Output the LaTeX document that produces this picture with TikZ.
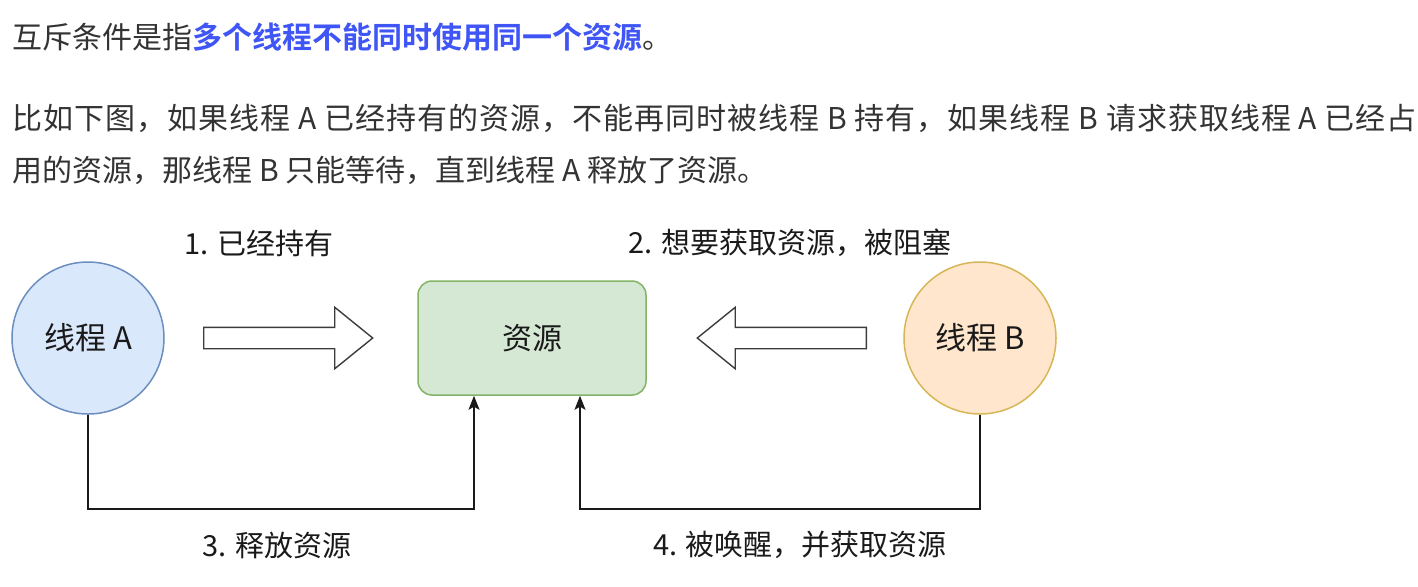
\documentclass[tikz,border=0pt]{standalone}
\usepackage{fontspec}
\setmainfont{Noto Sans CJK SC}[BoldFont={Noto Sans CJK SC Bold}]
\newfontfamily\spreadfont{Noto Sans CJK SC}[LetterSpace=3.4]
\usetikzlibrary{shapes.arrows,arrows.meta}
\definecolor{bodytext}{HTML}{333333}
\definecolor{linkblue}{HTML}{3F55F5}
\definecolor{blueFill}{HTML}{DAE8FC}
\definecolor{blueLine}{HTML}{6C8EBF}
\definecolor{greenFill}{HTML}{D5E8D4}
\definecolor{greenLine}{HTML}{82B366}
\definecolor{orangeFill}{HTML}{FFE6CC}
\definecolor{orangeLine}{HTML}{D6B656}
\definecolor{inkline}{HTML}{1A1A1A}

\begin{document}
\begin{tikzpicture}[x=0.5pt,y=-0.5pt,
	para/.style={anchor=west,inner sep=0pt,text=bodytext,font=\fontsize{15pt}{18pt}\selectfont},
	tag/.style={inner sep=0pt,text=inkline,font=\fontsize{14.5pt}{17pt}\selectfont},
	thread/.style={circle,minimum size=76pt,inner sep=0pt,line width=0.75pt,text=inkline,font=\fontsize{15.5pt}{18pt}\selectfont},
	res/.style={rectangle,rounded corners=7pt,minimum width=114pt,minimum height=57pt,fill=greenFill,draw=greenLine,line width=0.75pt,text=inkline,font=\fontsize{15pt}{18pt}\selectfont},
	blockarrow/.style={single arrow,draw=inkline!85,fill=white,line width=0.7pt,inner sep=0pt,inner ysep=5pt,minimum height=84.5pt,single arrow head extend=10pt,single arrow tip angle=78,anchor=tail},
	link/.style={draw=inkline,line width=0.75pt,-{Stealth[length=7pt,width=5.5pt,inset=1.5pt]}}]
	\useasboundingbox (0,0) rectangle (1418,586);
	\node[para] (line1) at (12,37) {互斥条件是指{\bfseries\color{linkblue}多个线程不能同时使用同一个资源}。};
	\node[para] (line2) at (12,118) {\spreadfont 比如下图，如果线程 A 已经持有的资源，不能再同时被线程 B 持有，如果线程 B 请求获取线程 A 已经占};
	\node[para] (line3) at (12,170) {用的资源，那线程 B 只能等待，直到线程 A 释放了资源。};

	\node[thread,fill=blueFill,draw=blueLine] (thA) at (88,338) {线程 A};
	\node[res] (res) at (532,338) {资源};
	\node[thread,fill=orangeFill,draw=orangeLine] (thB) at (980,338) {线程 B};
	\node[blockarrow] (hold) at (203,338) {};
	\node[blockarrow,shape border rotate=180] (wait) at (867,338) {};

	\node[tag] (lbl1) at (259,243) {1. 已经持有};
	\node[tag] (lbl2) at (790,243) {2. 想要获取资源，被阻塞};
	\node[tag] (lbl3) at (277,545) {3. 释放资源};
	\node[tag] (lbl4) at (800,545) {4. 被唤醒，并获取资源};

	\coordinate (turnA) at (474,509);
	\coordinate (turnB) at (580,509);
	\draw[link] (thA.south) |- (turnA) -- (turnA |- res.south);
	\draw[link] (thB.south) |- (turnB) -- (turnB |- res.south);
\end{tikzpicture}
\end{document}
